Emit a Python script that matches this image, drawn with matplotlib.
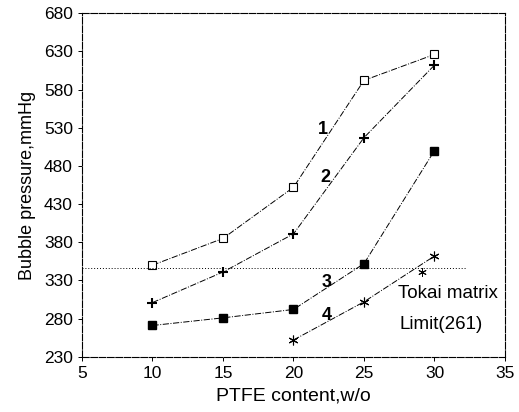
import numpy as np
import matplotlib.pyplot as plt

plt.rcParams['font.family'] = ['Liberation Sans', 'DejaVu Sans']

ptfe = [10, 15, 20, 25, 30]
curve1 = [350, 385, 452, 592, 626]
curve2 = [301, 341, 391, 517, 612]
curve3 = [271, 281, 292, 352, 500]
ptfe4 = [20, 25, 30]
curve4 = [252, 302, 362]
tokai_limit = 346

fig = plt.figure(figsize=(5.19, 4.12), dpi=100)
ax = fig.add_axes([0.158, 0.134, 0.815, 0.834])

ax.plot(ptfe, curve1, color='black', lw=0.7, ls='-.', marker='s', ms=6,
        mfc='white', mec='black', mew=0.8)
ax.plot(ptfe, curve2, color='black', lw=0.7, ls='-.', marker='+', ms=7, mew=1.5)
ax.plot(ptfe, curve3, color='black', lw=0.7, ls='-.', marker='s', ms=6,
        mfc='black', mec='black')
ax.plot(ptfe4, curve4, color='black', lw=0.7, ls='-.', marker=(6, 2, 0), ms=7, mew=0.8)

# Tokai matrix limit line
ax.plot([5, 32.3], [tokai_limit, tokai_limit], color='black', lw=0.7, ls=(0, (1, 2)))
ax.plot([29.1], [341], marker=(6, 2, 0), color='black', ms=6, mew=0.7)

ax.text(21.7, 522, '1', fontsize=13, fontweight='bold')
ax.text(21.9, 459, '2', fontsize=13, fontweight='bold')
ax.text(22.0, 322, '3', fontsize=13, fontweight='bold')
ax.text(22.0, 278, '4', fontsize=13, fontweight='bold')
ax.text(27.4, 307, 'Tokai matrix', fontsize=13.5)
ax.text(27.5, 266, 'Limit(261)', fontsize=13.5)

ax.set_xlim(5, 35)
ax.set_ylim(230, 680)
ax.set_xticks([5, 10, 15, 20, 25, 30, 35])
ax.set_yticks(np.arange(230, 681, 50))
ax.tick_params(direction='out', length=3, width=0.7, labelsize=12.5)
for s in ax.spines.values():
    s.set_linewidth(0.8)
    s.set_linestyle((0, (6, 1.5)))

ax.set_xlabel('PTFE content,w/o', fontsize=14, labelpad=5)
ax.set_ylabel('Bubble pressure,mmHg', fontsize=13, labelpad=6)

fig.savefig('out.png', dpi=100)
